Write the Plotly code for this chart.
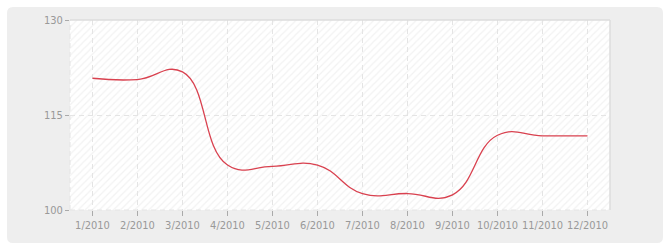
import plotly.graph_objects as go

# ---- data ----
months = ["1/2010", "2/2010", "3/2010", "4/2010", "5/2010", "6/2010",
          "7/2010", "8/2010", "9/2010", "10/2010", "11/2010", "12/2010"]
values = [120.8, 120.6, 121.8, 107.1, 106.9, 107.1,
          102.6, 102.6, 102.4, 111.8, 111.7, 111.7]
y_ticks = [100, 115, 130]

x_idx = list(range(len(months)))
x_range = [-0.5, len(months) - 0.5]
y_range = [min(y_ticks), max(y_ticks)]

W, H = 670, 250
ML, MR, MT, MB = 70, 60, 20, 40
PW, PH = W - ML - MR, H - MT - MB

def px_x(p):
    return (p - ML) / PW

def px_y(p):
    return (H - MB - p) / PH

fig = go.Figure()

# hatched plot-area backdrop (spans the axis ranges)
fig.add_trace(go.Scatter(
    x=[x_range[0], x_range[1], x_range[1], x_range[0], x_range[0]],
    y=[y_range[0], y_range[0], y_range[1], y_range[1], y_range[0]],
    fill="toself", mode="none", fillcolor="rgba(0,0,0,0)",
    fillpattern=dict(shape="/", fgcolor="#e6e6e6", bgcolor="rgba(0,0,0,0)",
                     size=5, solidity=0.25),
    hoverinfo="skip", showlegend=False,
))

fig.add_trace(go.Scatter(
    x=x_idx, y=values, mode="lines",
    line=dict(shape="spline", smoothing=1.3, color="#d9414f", width=1.3),
    showlegend=False,
))

# rounded grey panel
x0, x1 = px_x(7), px_x(663)
yt, yb = px_y(7), px_y(243)
rx, ry = 6 / PW, 6 / PH
path = (f"M {x0+rx},{yt} L {x1-rx},{yt} Q {x1},{yt} {x1},{yt-ry} "
        f"L {x1},{yb+ry} Q {x1},{yb} {x1-rx},{yb} "
        f"L {x0+rx},{yb} Q {x0},{yb} {x0},{yb+ry} "
        f"L {x0},{yt-ry} Q {x0},{yt} {x0+rx},{yt} Z")

shapes = [
    dict(type="path", path=path, xref="paper", yref="paper",
         fillcolor="#eeeeee", line=dict(width=0), layer="below"),
    dict(type="rect", xref="paper", yref="paper", x0=0, x1=1, y0=0, y1=1,
         fillcolor="#ffffff", line=dict(width=0), layer="below"),
    dict(type="line", xref="paper", yref="paper", x0=0, x1=1, y0=1, y1=1,
         line=dict(color="#dcdcdc", width=1.5), layer="above"),
    dict(type="line", xref="paper", yref="paper", x0=1, x1=1, y0=0, y1=1,
         line=dict(color="#dcdcdc", width=1.5), layer="above"),
    dict(type="line", xref="paper", yref="paper", x0=0, x1=0, y0=0, y1=1,
         line=dict(color="#e4e4e4", width=1, dash="5px,4px"), layer="below"),
    dict(type="line", xref="paper", yref="paper", x0=0, x1=1, y0=0, y1=0,
         line=dict(color="#e4e4e4", width=1, dash="5px,4px"), layer="below"),
]

font = dict(family="DejaVu Sans Condensed, DejaVu Sans", size=11, color="#999999")

fig.update_layout(
    width=W, height=H,
    margin=dict(l=ML, r=MR, t=MT, b=MB, pad=0),
    paper_bgcolor="#ffffff",
    plot_bgcolor="rgba(0,0,0,0)",
    shapes=shapes,
    xaxis=dict(
        range=x_range, tickmode="array", tickvals=x_idx, ticktext=months,
        tickangle=0, automargin=False,
        showgrid=True, gridcolor="#e4e4e4", griddash="5px,4px", gridwidth=1,
        ticks="outside", ticklen=5, tickcolor="#aaaaaa", tickwidth=1,
        zeroline=False, showline=False, tickfont=font, fixedrange=True,
    ),
    yaxis=dict(
        range=y_range, tickmode="array", tickvals=y_ticks, automargin=False,
        showgrid=True, gridcolor="#e4e4e4", griddash="5px,4px", gridwidth=1,
        ticks="outside", ticklen=4, tickcolor="#aaaaaa", tickwidth=1,
        zeroline=False, showline=False, tickfont=font, fixedrange=True,
    ),
)

fig.write_html("out.html")
